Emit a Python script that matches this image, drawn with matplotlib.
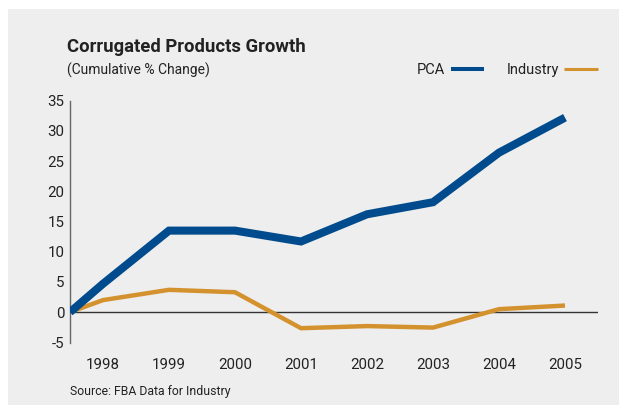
import matplotlib
matplotlib.use('Agg')
import matplotlib.pyplot as plt
from matplotlib.lines import Line2D
from matplotlib.patches import Rectangle

# data
years = [1997.5, 1998, 1999, 2000, 2001, 2002, 2003, 2004, 2005]
pca = [0, 4.7, 13.5, 13.5, 11.7, 16.2, 18.2, 26.4, 32.2]
industry = [0, 2.0, 3.7, 3.3, -2.65, -2.3, -2.55, 0.5, 1.1]
tickYears = [1998, 1999, 2000, 2001, 2002, 2003, 2004, 2005]
yTicks = [-5, 0, 5, 10, 15, 20, 25, 30, 35]

blue = '#004b8d'
orange = '#d4922f'
bg = '#eeeeee'
textColor = '#222222'

plt.rcParams['font.family'] = ['Roboto', 'DejaVu Sans']
plt.rcParams['axes.unicode_minus'] = False

W, H = 620, 409
fig = plt.figure(figsize=(W / 100, H / 100), dpi=100)
fig.patch.set_facecolor('white')
# gray panel behind everything
fig.patches.append(Rectangle((8 / W, 1 - 405 / H), 611 / W, 396 / H, transform=fig.transFigure,
                             facecolor=bg, edgecolor='none', zorder=-10))

ax = fig.add_axes([70 / W, 1 - 343 / H, (598 - 70) / W, (343 - 100.7) / H])
ax.set_facecolor('none')

ax.axhline(0, color='#333333', lw=1.0, zorder=1)
ax.plot(years, pca, color=blue, lw=5.8, solid_capstyle='butt', solid_joinstyle='miter', zorder=3)
ax.plot(years, industry, color=orange, lw=3.2, solid_capstyle='butt', solid_joinstyle='miter', zorder=2)

ax.set_xlim(1997.5, 2005.5)
ax.set_ylim(-5.1, 35)
ax.set_xticks(tickYears)
ax.set_xticklabels([str(y) for y in tickYears])
ax.set_yticks(yTicks)
ax.tick_params(axis='both', length=0, labelsize=10.8, colors=textColor)
ax.tick_params(axis='y', pad=4)
ax.tick_params(axis='x', pad=11)

for side in ['top', 'right', 'bottom']:
    ax.spines[side].set_visible(False)
ax.spines['left'].set_color('#666666')
ax.spines['left'].set_linewidth(1.0)

fig.text(67 / W, 1 - 52 / H, 'Corrugated Products Growth', fontsize=13.3, fontweight='bold',
         color=textColor, va='baseline', ha='left')
fig.text(67 / W, 1 - 75 / H, '(Cumulative % Change)', fontsize=10,
         color=textColor, va='baseline', ha='left')
fig.text(70 / W, 1 - 395 / H, 'Source: FBA Data for Industry', fontsize=8.8,
         color=textColor, va='baseline', ha='left')

handles = [Line2D([], [], color=blue, lw=2.9, solid_capstyle='butt'),
           Line2D([], [], color=orange, lw=2.2, solid_capstyle='butt')]
leg = fig.legend(handles, ['PCA', 'Industry'], loc='center right',
                 bbox_to_anchor=(598 / W, 1 - 70 / H), bbox_transform=fig.transFigure,
                 ncol=2, frameon=False, markerfirst=False, fontsize=10.5,
                 handlelength=2.3, handletextpad=0.4, columnspacing=1.5,
                 borderpad=0, borderaxespad=0)
for t in leg.get_texts():
    t.set_color(textColor)

fig.savefig('out.png', dpi=100, facecolor=fig.get_facecolor())
